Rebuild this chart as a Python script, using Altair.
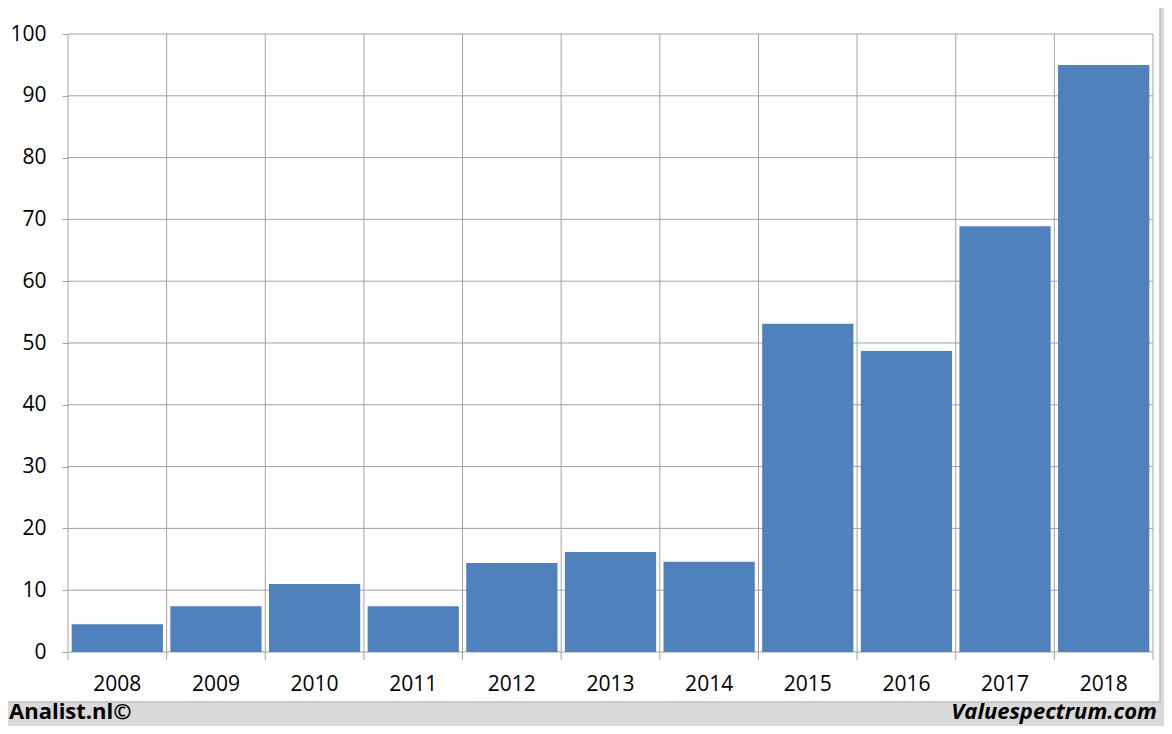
import altair as alt
import pandas as pd

years = ["2008", "2009", "2010", "2011", "2012", "2013", "2014", "2015", "2016", "2017", "2018"]
values = [4.5, 7.4, 11.0, 7.4, 14.4, 16.2, 14.6, 53.1, 48.7, 68.9, 95.0]
y_ticks = [0, 10, 20, 30, 40, 50, 60, 70, 80, 90, 100]

df = pd.DataFrame({"year": years, "value": values})
grid_df = pd.DataFrame({"value": y_ticks})
edge_df = pd.DataFrame({"year": [years[-1]]})
one_df = pd.DataFrame({"k": [0]})

W, H = 1085, 618
GRID = "#a3a3a3"
FONT = "Open Sans"

xscale = alt.Scale(domain=years, paddingInner=0, paddingOuter=0)
yscale = alt.Scale(domain=[0, 100], nice=False, zero=True)

xaxis = alt.Axis(
    ticks=False, domain=False, grid=False, labelAngle=0,
    labelFont=FONT, labelFontSize=21, labelColor="black",
    labelPadding=21, zindex=1, title=None,
)
yaxis = alt.Axis(
    values=y_ticks, grid=False, domain=False, ticks=True, tickSize=6,
    tickColor=GRID, labelFont=FONT, labelFontSize=21, labelColor="black",
    labelPadding=16, zindex=1, title=None,
)

panel = alt.Chart(one_df).mark_rect(fill="white", stroke="#bdbdbd", strokeWidth=1.5).encode(
    x=alt.value(-61), x2=alt.value(1092), y=alt.value(-27), y2=alt.value(668)
)

hgrid = alt.Chart(grid_df).mark_rule(color=GRID, strokeWidth=1).encode(
    y=alt.Y("value:Q", scale=yscale, axis=yaxis)
)

vgrid = alt.Chart(df).mark_rule(color=GRID, strokeWidth=1).encode(
    x=alt.X("year:N", scale=xscale, bandPosition=0, axis=xaxis),
    y=alt.value(0),
    y2=alt.value(H + 8),
)

vedge = alt.Chart(edge_df).mark_rule(color=GRID, strokeWidth=1).encode(
    x=alt.X("year:N", scale=xscale, bandPosition=1, axis=xaxis),
    y=alt.value(0),
    y2=alt.value(H + 8),
)

bars = alt.Chart(df).mark_bar(color="#4f81bd", width=alt.RelativeBandSize(0.925)).encode(
    x=alt.X("year:N", scale=xscale, axis=xaxis),
    y=alt.Y("value:Q", scale=yscale, axis=yaxis),
)

left_txt = alt.Chart(one_df).mark_text(
    text="Analist.nl©", font=FONT, fontSize=22, fontWeight="bold",
    align="left", baseline="alphabetic", color="black",
).encode(x=alt.value(-59), y=alt.value(685))

right_txt = alt.Chart(one_df).mark_text(
    text="Valuespectrum.com", font=FONT, fontSize=22, fontWeight="bold",
    fontStyle="italic", align="right", baseline="alphabetic", color="black",
).encode(x=alt.value(1089), y=alt.value(685))

chart = alt.layer(panel, hgrid, vgrid, vedge, bars, left_txt, right_txt).properties(
    width=W,
    height=H,
    background="#d9d9d9",
    autosize=alt.AutoSizeParams(type="none"),
    padding={"left": 60, "top": 26, "right": 11, "bottom": 74},
).configure_view(stroke=None)

chart.save("out.html", embed_options={"renderer": "svg", "actions": False})
